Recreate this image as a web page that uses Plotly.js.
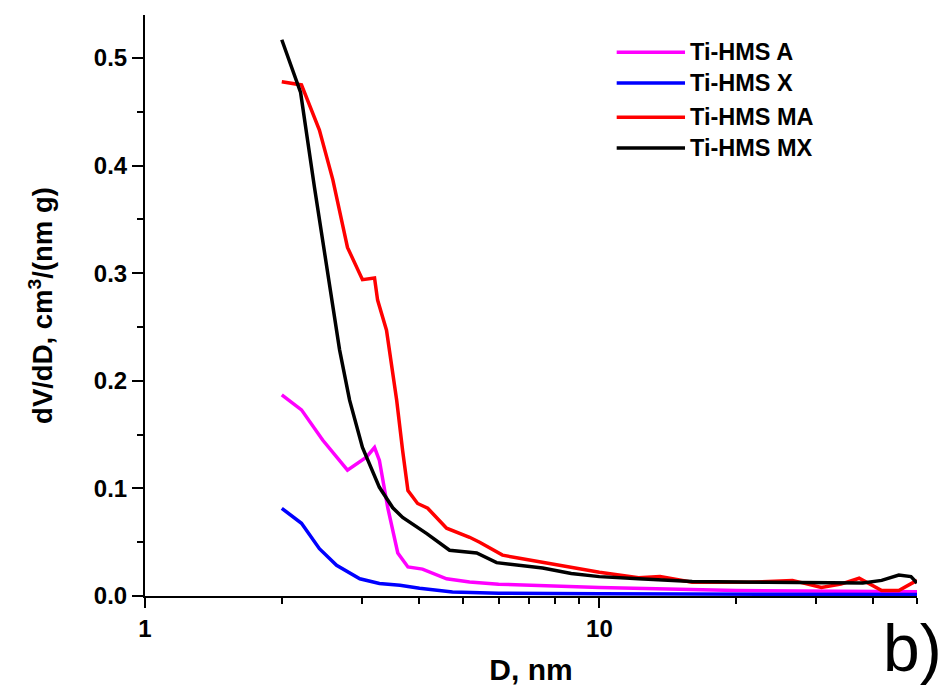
<!DOCTYPE html>
<html>
<head>
<meta charset="utf-8">
<script src="https://cdn.plot.ly/plotly-3.0.1.min.js"></script>
<style>html,body{margin:0;padding:0;background:#fff;}#chart{width:945px;height:695px;}</style>
</head>
<body>
<div id="chart"></div>
<script>
// Series names and colours
const seriesNames = ["Ti-HMS A", "Ti-HMS X", "Ti-HMS MA", "Ti-HMS MX"];
const seriesColors = ["#ff00ff", "#0000ff", "#ff0000", "#000000"];

// Ti-HMS A
const xA = [2.0, 2.21, 2.46, 2.79, 3.07, 3.20, 3.28, 3.42, 3.60, 3.79, 4.08, 4.61, 5.18, 6.0, 10, 20, 50];
const yA = [0.187, 0.173, 0.145, 0.117, 0.129, 0.138, 0.126, 0.0825, 0.040, 0.027, 0.025, 0.016, 0.013, 0.011, 0.008, 0.005, 0.004];

// Ti-HMS X
const xX = [2.0, 2.21, 2.42, 2.64, 2.97, 3.28, 3.64, 4.02, 4.75, 6, 10, 20, 50];
const yX = [0.0815, 0.0676, 0.044, 0.0286, 0.016, 0.0117, 0.010, 0.0072, 0.0037, 0.0025, 0.002, 0.0015, 0.0015];

// Ti-HMS MA
const xMA = [2.0, 2.21, 2.42, 2.59, 2.79, 3.01, 3.20, 3.25, 3.40, 3.49, 3.58, 3.69, 3.79, 3.98, 4.19, 4.61, 5.18, 5.45, 6.12, 6.67, 7.77, 8.9, 10, 12.2, 13.6, 16, 21.3, 26.6, 30.8, 34, 37.3, 41.8, 45.6, 50];
const yMA = [0.478, 0.475, 0.433, 0.387, 0.324, 0.294, 0.2955, 0.275, 0.247, 0.213, 0.182, 0.135, 0.098, 0.086, 0.0816, 0.063, 0.0546, 0.050, 0.038, 0.035, 0.030, 0.0257, 0.022, 0.017, 0.018, 0.0127, 0.0127, 0.0145, 0.008, 0.011, 0.0165, 0.005, 0.005, 0.0145];

// Ti-HMS MX
const xMX = [2.0, 2.2, 2.36, 2.58, 2.68, 2.82, 3.01, 3.28, 3.51, 3.69, 4.17, 4.68, 5.0, 5.37, 5.94, 6.67, 7.5, 8.67, 10, 12.2, 16, 23.3, 32.7, 38, 41.8, 45.6, 48.5, 50];
const yMX = [0.517, 0.468, 0.380, 0.275, 0.229, 0.182, 0.138, 0.101, 0.082, 0.073, 0.058, 0.0425, 0.0415, 0.040, 0.031, 0.0285, 0.026, 0.021, 0.018, 0.016, 0.0135, 0.0128, 0.0118, 0.012, 0.0145, 0.0195, 0.018, 0.012];

// Axis ticks
const xMajorTicks = [1, 10];
const xMajorLabels = ["1", "10"];
const xMinorTicks = [2, 3, 4, 5, 6, 7, 8, 9, 20, 30, 40, 50];
const yTicks = [0, 0.1, 0.2, 0.3, 0.4, 0.5];

const xs = [xA, xX, xMA, xMX];
const ys = [yA, yX, yMA, yMX];

const traces = xs.map((x, i) => ({
  x: x, y: ys[i], type: "scatter", mode: "lines", name: seriesNames[i],
  line: {color: seriesColors[i], width: 3.5}, showlegend: false
}));

const FONT = "Liberation Sans, Arial, sans-serif";

// custom legend (long line samples)
const legendRowsY = [0.936, 0.883, 0.824, 0.771];
const shapes = seriesNames.map((n, i) => ({
  type: "line", xref: "paper", yref: "paper",
  x0: 0.611, x1: 0.6995, y0: legendRowsY[i], y1: legendRowsY[i],
  line: {color: seriesColors[i], width: 3.5}
}));
const annotations = seriesNames.map((n, i) => ({
  xref: "paper", yref: "paper", x: 0.704, y: legendRowsY[i],
  xanchor: "left", yanchor: "middle", text: n, showarrow: false,
  font: {family: FONT, size: 23.5, color: "#000", weight: "bold"}
}));
annotations.push({
  xref: "paper", yref: "paper", x: 1.035, y: -0.09,
  xanchor: "right", yanchor: "middle", text: "b)", showarrow: false,
  font: {family: FONT, size: 66, color: "#000"}
});

const layout = {
  width: 945, height: 695,
  margin: {l: 145, r: 28, t: 15, b: 99},
  paper_bgcolor: "#fff", plot_bgcolor: "#fff",
  showlegend: false,
  xaxis: {
    type: "log", range: [0, Math.log10(50)],
    tickmode: "array", tickvals: xMajorTicks, ticktext: xMajorLabels,
    ticks: "outside", ticklen: 10, tickwidth: 2, tickcolor: "#000",
    minor: {tickmode: "array", tickvals: xMinorTicks, ticks: "outside", ticklen: 6, tickwidth: 2, tickcolor: "#000", showgrid: false},
    showline: true, linecolor: "#000", linewidth: 2, showgrid: false, zeroline: false,
    tickfont: {family: FONT, size: 24, color: "#000", weight: "bold"},
    title: {text: "D, nm", font: {family: FONT, size: 30, color: "#000", weight: "bold"}, standoff: 18},
    automargin: false
  },
  yaxis: {
    range: [0, 0.54],
    tickmode: "array", tickvals: yTicks, tickformat: ".1f",
    ticks: "outside", ticklen: 11, tickwidth: 2, tickcolor: "#000",
    minor: {dtick: 0.05, ticks: "outside", ticklen: 6, tickwidth: 2, tickcolor: "#000", showgrid: false},
    showline: true, linecolor: "#000", linewidth: 2, showgrid: false, zeroline: false,
    tickfont: {family: FONT, size: 24, color: "#000", weight: "bold"},
    title: {text: "dV/dD, cm<sup>3</sup>/(nm g)", font: {family: FONT, size: 27.5, color: "#000", weight: "bold"}, standoff: 33},
    automargin: false
  },
  shapes: shapes,
  annotations: annotations
};

Plotly.newPlot("chart", traces, layout, {staticPlot: true, displayModeBar: false});
</script>
</body>
</html>
